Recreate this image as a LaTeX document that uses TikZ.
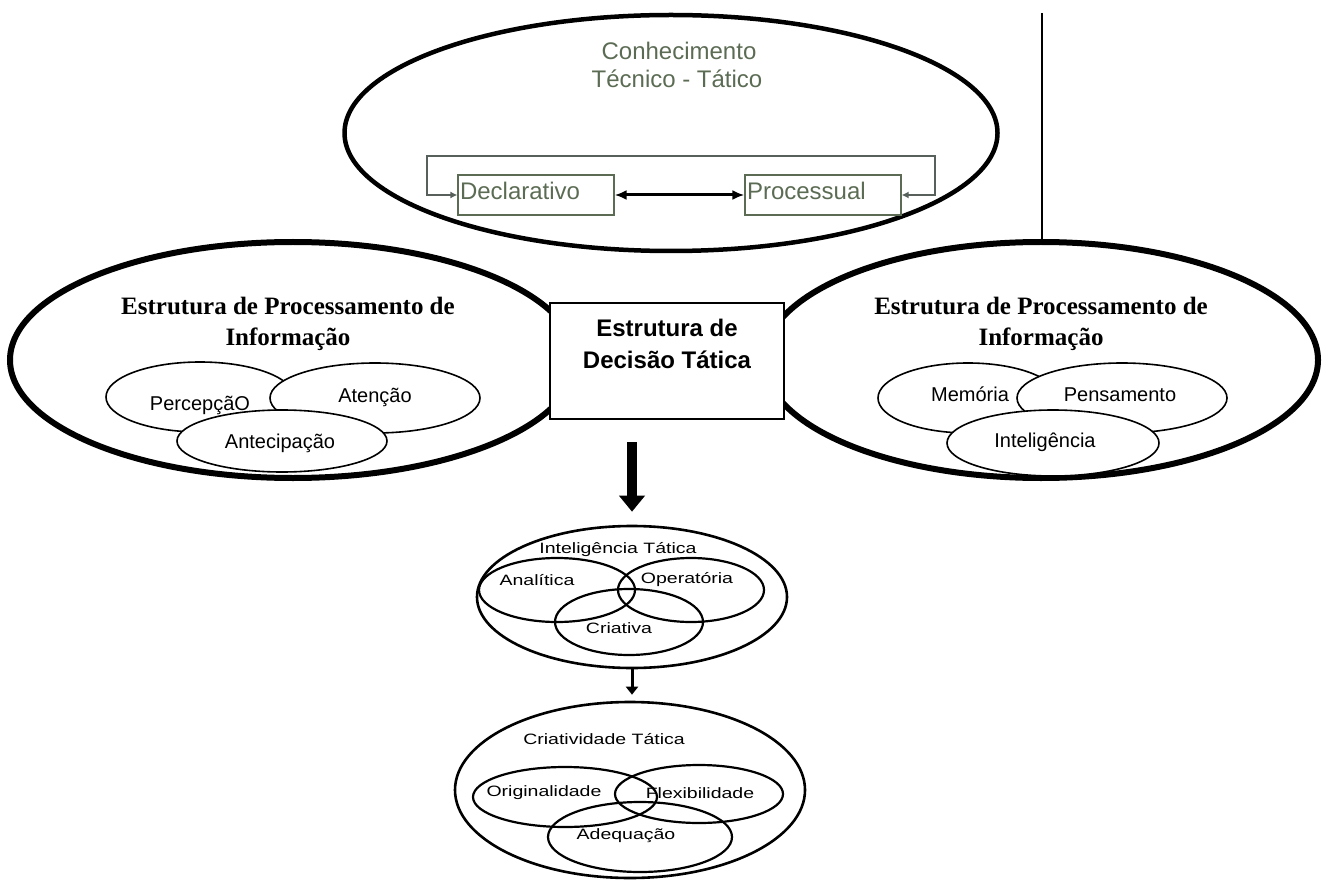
\documentclass[tikz,border=0pt]{standalone}
\usepackage{fontspec}
\setmainfont{Liberation Serif}
\setsansfont{Liberation Sans}
\usepackage{graphicx}
\usepackage{tikz}
\usetikzlibrary{positioning, shapes.geometric, arrows.meta}

\definecolor{tecgray}{RGB}{92,108,84}
\definecolor{loopgray}{RGB}{88,96,92}
\newcommand{\widetxt}[1]{\scalebox{1.3}[1]{#1}}

\tikzset{
  bigell/.style={ellipse, draw, line width=6pt, inner sep=0pt},
  infoell/.style={ellipse, draw, fill=white, line width=1.6pt, inner sep=0pt},
  vennell/.style={ellipse, draw, line width=2.2pt, inner sep=0pt},
  tecbox/.style={draw=tecgray, line width=1.2pt, minimum height=40pt, inner xsep=2pt,
    text width=152pt, align=left, text depth=8pt, text=tecgray,
    font=\sffamily\fontsize{24}{28}\selectfont},
  tectxt/.style={text=tecgray, font=\sffamily\fontsize{24}{28}\selectfont, anchor=base},
  titletxt/.style={font=\rmfamily\bfseries\fontsize{25}{30}\selectfont, anchor=base},
  infotxt/.style={font=\sffamily\fontsize{20}{24}\selectfont, anchor=base},
  venntxt/.style={font=\sffamily\fontsize{15}{18}\selectfont, anchor=base},
  loopline/.style={draw=loopgray, line width=2.2pt, {Latex[length=7pt,width=7pt]}-{Latex[length=7pt,width=7pt]}},
}

\begin{document}
\begin{tikzpicture}[x=1pt, y=-1pt]
  \useasboundingbox (0,0) rectangle (1324,882);

  % Conhecimento tecnico-tatico
  \node (topell) [ellipse, draw, line width=4.5pt, inner sep=0pt, minimum width=653pt, minimum height=236pt] at (671,133) {};
  \node (con1) [tectxt] at (679,60) {Conhecimento};
  \node (con2) [tectxt] at (677,88) {Técnico - Tático};
  \node (decl) [tecbox] at (536,195) {Declarativo};
  \node (proc) [tecbox] at (823,195) {Processual};
  \coordinate (loopL) at (427,156);
  \coordinate (loopR) at (935,156);
  \draw[loopline] (decl.west) -| (loopL) -- (loopR) |- (proc.east);
  \draw[line width=3pt, {Latex[length=12pt,width=10pt]}-{Latex[length=12pt,width=10pt]}] (decl.east) -- (proc.west);
  \draw[line width=2.5pt] (1042,13) -- (1042,242);

  % Left: processamento
  \node (leftell) [bigell, minimum width=566pt, minimum height=236pt] at (293,360) {};
  \node (lt1) [titletxt] at (288,315) {Estrutura de Processamento de};
  \node (lt2) [titletxt] at (288,345) {Informação};
  \node (perc) [infoell, minimum width=188pt, minimum height=70pt] at (200,397) {};
  \node (aten) [infoell, minimum width=210pt, minimum height=70pt] at (375,398) {};
  \node (ante) [infoell, minimum width=210pt, minimum height=62pt] at (282,441) {};
  \node (percT) [infotxt] at (200,410) {PercepçãO};
  \node (atenT) [infotxt] at (375,402) {Atenção};
  \node (anteT) [infotxt] at (280,448) {Antecipação};

  % Right: processamento
  \node (rightell) [bigell, minimum width=554pt, minimum height=236pt] at (1041,360) {};
  \node (rt1) [titletxt] at (1041,315) {Estrutura de Processamento de};
  \node (rt2) [titletxt] at (1041,345) {Informação};
  \node (memo) [infoell, minimum width=180pt, minimum height=70pt] at (968,398) {};
  \node (pens) [infoell, minimum width=210pt, minimum height=70pt] at (1122,398) {};
  \node (intg) [infoell, minimum width=212pt, minimum height=66pt] at (1053,443) {};
  \node (memoT) [infotxt] at (970,401) {Memória};
  \node (pensT) [infotxt] at (1120,401) {Pensamento};
  \node (intgT) [infotxt] at (1045,447) {Inteligência};

  % Center box
  \node (dec) [draw, fill=white, line width=1.5pt, minimum width=234pt, minimum height=116pt] at (667,361) {};
  \node (dec1) [font=\sffamily\bfseries\fontsize{24}{30}\selectfont, anchor=base] at (667,336) {Estrutura de};
  \node (dec2) [font=\sffamily\bfseries\fontsize{24}{30}\selectfont, anchor=base] at (667,368) {Decisão Tática};

  % Inteligencia tatica
  \node (intel) [vennell, line width=2.6pt, minimum width=310pt, minimum height=142pt] at (632,597) {};
  \node (anal) [vennell, minimum width=156pt, minimum height=64pt] at (557,590) {};
  \node (oper) [vennell, minimum width=146pt, minimum height=64pt] at (691,590) {};
  \node (cria) [vennell, minimum width=148pt, minimum height=66pt] at (629,622) {};
  \node (intelT) [venntxt] at (618,553) {\widetxt{Inteligência Tática}};
  \node (analT) [venntxt] at (537,585) {\widetxt{Analítica}};
  \node (operT) [venntxt] at (687,583) {\widetxt{Operatória}};
  \node (criaT) [venntxt] at (619,633) {\widetxt{Criativa}};
  \coordinate (arrTop) at (632,442);
  \draw[line width=10pt, -{Triangle[width=25pt,length=16pt]}, shorten >=13pt] (arrTop) -- (intel.north);

  % Criatividade tatica
  \node (creat) [vennell, line width=2.6pt, minimum width=350pt, minimum height=176pt] at (630,790) {};
  \node (orig) [vennell, minimum width=184pt, minimum height=60pt] at (565,797) {};
  \node (flex) [vennell, minimum width=168pt, minimum height=58pt] at (699,794) {};
  \node (adeq) [vennell, minimum width=184pt, minimum height=70pt] at (640,837) {};
  \node (creatT) [venntxt] at (604,744) {\widetxt{Criatividade Tática}};
  \node (origT) [venntxt] at (544,796) {\widetxt{Originalidade}};
  \node (flexT) [venntxt] at (700,798) {\widetxt{Flexibilidade}};
  \node (adeqT) [venntxt] at (626,839) {\widetxt{Adequação}};
  \draw[line width=3pt, -{Triangle[width=12pt,length=8pt]}, shorten >=6pt] (intel.south) -- (intel.south |- creat.north);
\end{tikzpicture}
\end{document}
